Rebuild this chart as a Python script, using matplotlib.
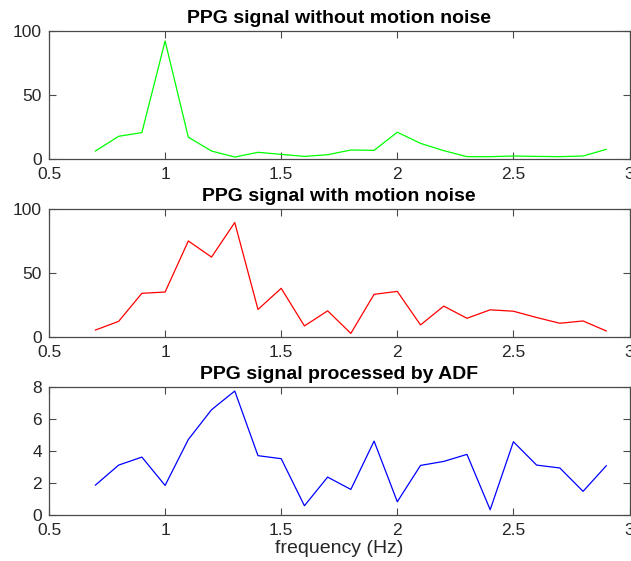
import matplotlib
matplotlib.use("Agg")
import matplotlib.pyplot as plt
import numpy as np

plt.rcParams['font.family'] = ['Liberation Sans', 'DejaVu Sans']

freq = [0.7, 0.8, 0.9, 1.0, 1.1, 1.2, 1.3, 1.4, 1.5, 1.6, 1.7, 1.8,
        1.9, 2.0, 2.1, 2.2, 2.3, 2.4, 2.5, 2.6, 2.7, 2.8, 2.9]

clean = [6.0, 17.5, 20.4, 92.0, 16.8, 6.0, 1.3, 5.0, 3.4, 1.8, 3.1, 6.8,
         6.5, 20.7, 12.0, 6.3, 1.6, 1.6, 2.1, 1.8, 1.6, 2.1, 7.3]

noisy = [5.2, 12.0, 33.9, 34.9, 74.8, 62.2, 89.2, 21.3, 37.8, 8.4, 20.2, 2.6,
         33.1, 35.4, 9.2, 23.9, 14.4, 21.0, 19.9, 15.0, 10.5, 12.3, 4.5]

adf = [1.85, 3.1, 3.6, 1.83, 4.7, 6.56, 7.73, 3.69, 3.5, 0.56, 2.35, 1.58,
       4.6, 0.81, 3.08, 3.33, 3.77, 0.31, 4.56, 3.1, 2.92, 1.46, 3.06]

titles = ["PPG signal without motion noise", "PPG signal with motion noise",
          "PPG signal processed by ADF"]
colors = ["#00ff00", "#ff0000", "#0000ff"]
series = [clean, noisy, adf]
ylims = [(0, 100), (0, 100), (0, 8)]
yticks = [[0, 50, 100], [0, 50, 100], [0, 2, 4, 6, 8]]
xticks = [0.5, 1, 1.5, 2, 2.5, 3]
xticklabels = ["0.5", "1", "1.5", "2", "2.5", "3"]

W, H = 631, 561
fig = plt.figure(figsize=(W / 100, H / 100), dpi=100)
left = 49 / W
width = (629.5 - 49) / W
tops = [30.7, 208.7, 386.7]
hpx = 128.0

axc = "#4a4a4a"
txtc = "#262626"
for i in range(3):
    bottom = 1 - (tops[i] + hpx) / H
    ax = fig.add_axes([left, bottom, width, hpx / H])
    ax.plot(freq, series[i], color=colors[i], lw=0.9)
    ax.set_xlim(0.5, 3)
    ax.set_ylim(*ylims[i])
    ax.set_xticks(xticks)
    ax.set_xticklabels(xticklabels)
    ax.set_yticks(yticks[i])
    ax.tick_params(direction='in', length=5, width=0.8, colors=axc,
                   labelcolor=txtc, labelsize=12.5, top=True, right=True)
    ax.tick_params(axis='x', pad=6)
    ax.tick_params(axis='y', pad=5)
    for s in ax.spines.values():
        s.set_color(axc)
        s.set_linewidth(0.9)
    ax.set_title(titles[i], fontsize=14, fontweight='bold', pad=5.3)
    if i == 2:
        ax.set_xlabel("frequency (Hz)", fontsize=14, color=txtc, labelpad=1.5)

fig.savefig("out.png", dpi=100)
